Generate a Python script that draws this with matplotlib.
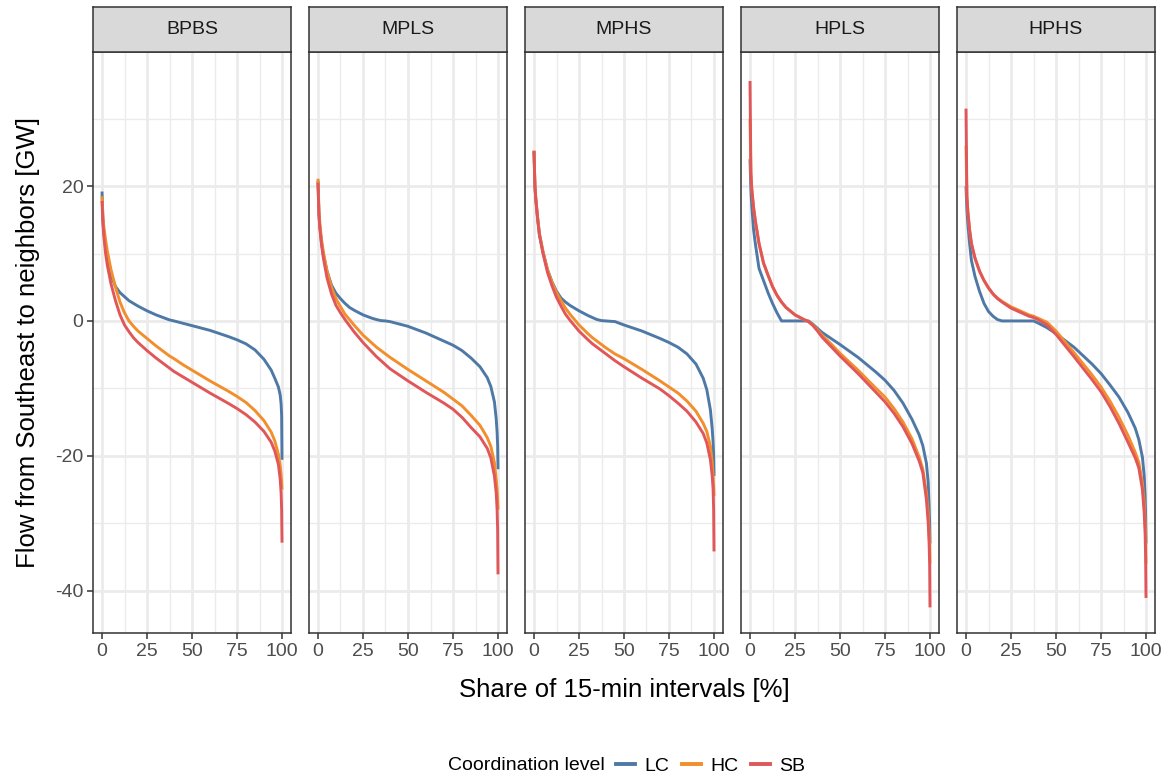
import matplotlib
matplotlib.use("Agg")
import matplotlib.pyplot as plt
from matplotlib.lines import Line2D
from matplotlib.ticker import MultipleLocator

plt.rcParams["font.family"] = ["Liberation Sans", "DejaVu Sans"]
plt.rcParams["axes.unicode_minus"] = False

# share of 15-min intervals [%]
share = [0, 0.5, 1, 2, 3, 5, 7.5, 10, 12.5, 15, 17.5, 20, 25, 30, 32.5, 35, 37.5,
         40, 45, 50, 60, 70, 75, 80, 85, 90, 94, 96, 98, 99, 99.5, 99.8, 100]

scenarios = ["BPBS", "MPLS", "MPHS", "HPLS", "HPHS"]
levels = ["LC", "HC", "SB"]
colors = {"LC": "#4E79A7", "HC": "#F28E2B", "SB": "#E15759"}

# flow from Southeast to neighbors [GW]
bpbs_lc = [19.2, 15, 13.2, 11, 9.3, 6.8, 5.1, 4.2, 3.6, 3.0, 2.6, 2.2, 1.5, 0.9, 0.65, 0.4, 0.15,
           0.0, -0.35, -0.7, -1.4, -2.3, -2.8, -3.4, -4.3, -5.7, -7.3, -8.5, -9.8, -11, -12.3, -14, -20.6]
bpbs_hc = [18.5, 15.5, 14, 12, 10.3, 7.6, 5.0, 2.8, 1.2, 0.0, -0.8, -1.5, -2.6, -3.7, -4.2, -4.7, -5.2,
           -5.6, -6.5, -7.3, -8.9, -10.4, -11.2, -12.1, -13.3, -14.8, -16.5, -17.8, -19.8, -21.5, -22.8, -24, -25]
bpbs_sb = [17.8, 14.5, 12.6, 10, 8.2, 5.5, 3.0, 0.9, -0.6, -1.6, -2.5, -3.2, -4.4, -5.5, -6.0, -6.5, -7.0,
           -7.5, -8.3, -9.1, -10.7, -12.2, -13.0, -13.9, -15.0, -16.4, -18.0, -19.3, -21.3, -23.5, -25.5, -28, -32.9]

mpls_lc = [20.8, 16, 14, 11.5, 9.8, 7.4, 5.3, 4.1, 3.3, 2.6, 2.0, 1.6, 0.9, 0.4, 0.2, 0.05, 0.0,
           -0.1, -0.45, -0.8, -1.8, -3.0, -3.6, -4.4, -5.5, -6.8, -8.4, -9.7, -12, -14.5, -16.5, -18.5, -22]
mpls_hc = [21.1, 16.5, 14.5, 12, 10.2, 7.4, 5.0, 3.3, 2.1, 1.0, 0.2, -0.6, -2.1, -3.3, -3.9, -4.4, -4.9,
           -5.4, -6.3, -7.2, -8.9, -10.6, -11.6, -12.6, -14.0, -15.5, -17.3, -18.6, -21, -23.5, -25, -26.5, -28]
mpls_sb = [20.5, 15.8, 13.8, 11.2, 9.3, 6.4, 4.0, 2.3, 1.2, 0.2, -0.7, -1.6, -3.2, -4.6, -5.3, -5.9, -6.5,
           -7.1, -8.0, -8.9, -10.6, -12.2, -13.1, -14.3, -15.8, -17.2, -18.9, -20.3, -23, -25.5, -28, -31, -37.6]

mphs_lc = [25.2, 20, 18, 15.2, 12.8, 10.2, 7.6, 5.8, 4.4, 3.4, 2.8, 2.3, 1.5, 0.8, 0.5, 0.2, 0.05,
           0.0, -0.1, -0.6, -1.5, -2.6, -3.2, -3.9, -4.9, -6.4, -8.5, -10.2, -13.2, -16, -18, -20, -23]
mphs_hc = [25.3, 20.2, 18.2, 15.4, 13, 10.3, 7.6, 5.7, 4.2, 3.0, 1.9, 1.0, -0.6, -1.9, -2.5, -3.0, -3.5,
           -4.0, -4.9, -5.6, -7.2, -8.9, -9.8, -10.7, -11.9, -13.4, -15.2, -16.4, -18.6, -21, -23, -24.5, -26]
mphs_sb = [25.2, 20, 18, 15.2, 12.8, 10.0, 7.2, 5.2, 3.5, 2.2, 1.0, 0.1, -1.5, -2.8, -3.4, -3.9, -4.4,
           -4.9, -5.9, -6.8, -8.5, -10.1, -11.1, -12.2, -13.4, -15.0, -16.7, -18.1, -20.6, -23, -25, -28, -34.2]

hpls_lc = [24, 19.5, 17, 13.5, 11.4, 7.8, 6.0, 4.2, 2.6, 1.2, 0.0, 0.0, 0.0, 0.0, 0.0, -0.5, -1.1,
           -1.7, -2.6, -3.5, -5.4, -7.6, -8.8, -10.3, -12.2, -14.6, -16.9, -18.5, -21.1, -24, -27.5, -30, -33]
hpls_hc = [30, 22, 19.5, 16.8, 14.8, 11.5, 8.6, 6.8, 5.1, 3.8, 2.8, 2.0, 0.9, 0.2, -0.1, -0.6, -1.3,
           -2.1, -3.4, -4.8, -7.3, -10.0, -11.3, -13.0, -15.0, -17.5, -20.2, -22.0, -25.5, -28.5, -31, -33, -36]
hpls_sb = [35.6, 22, 19.5, 16.8, 14.8, 11.5, 8.6, 6.8, 5.1, 3.8, 2.8, 2.0, 0.9, 0.2, -0.1, -0.7, -1.5,
           -2.4, -3.8, -5.2, -7.8, -10.6, -12.0, -13.7, -15.7, -18.2, -20.8, -22.5, -26.5, -30, -33, -36, -42.5]

hphs_lc = [20, 16.5, 14.5, 11.5, 9.0, 6.6, 4.4, 2.6, 1.4, 0.7, 0.2, 0.0, 0.0, 0.0, 0.0, 0.0, 0.0,
           -0.3, -1.0, -1.9, -3.9, -6.4, -7.8, -9.5, -11.3, -13.6, -15.9, -17.6, -20.2, -23, -26, -29, -33]
hphs_hc = [26, 18.5, 16.3, 13.5, 11.5, 9.3, 7.4, 6.0, 4.9, 4.0, 3.4, 2.9, 2.1, 1.5, 1.2, 0.9, 0.7,
           0.4, -0.2, -1.5, -4.7, -8.0, -9.8, -11.9, -14.3, -17.0, -19.5, -21, -24, -27, -29.5, -32, -36]
hphs_sb = [31.5, 18.5, 16.3, 13.5, 11.5, 9.3, 7.4, 6.0, 4.9, 4.0, 3.3, 2.8, 1.9, 1.3, 1.0, 0.7, 0.5,
           0.2, -0.6, -2.0, -5.3, -8.7, -10.5, -12.7, -15.2, -18.0, -20.3, -21.8, -25, -28.5, -31.5, -35, -41.1]

flows = {
    "BPBS": {"LC": bpbs_lc, "HC": bpbs_hc, "SB": bpbs_sb},
    "MPLS": {"LC": mpls_lc, "HC": mpls_hc, "SB": mpls_sb},
    "MPHS": {"LC": mphs_lc, "HC": mphs_hc, "SB": mphs_sb},
    "HPLS": {"LC": hpls_lc, "HC": hpls_hc, "SB": hpls_sb},
    "HPHS": {"LC": hphs_lc, "HC": hphs_hc, "SB": hphs_sb},
}

W, H = 1168, 780
fig = plt.figure(figsize=(W / 100, H / 100), dpi=100)

left0, pw, step = 93, 198, 216
top, bottom, strip_top = 52, 633, 7
small = 14

for i, sc in enumerate(scenarios):
    x0 = left0 + i * step
    ax = fig.add_axes([x0 / W, 1 - bottom / H, pw / W, (bottom - top) / H])
    for lv in levels:
        ax.plot(share, flows[sc][lv], color=colors[lv], lw=2.1, solid_capstyle="butt", zorder=3)
    ax.set_xlim(-5, 105)
    ax.set_ylim(-46.3, 39.9)
    ax.xaxis.set_major_locator(MultipleLocator(25))
    ax.xaxis.set_minor_locator(MultipleLocator(12.5))
    ax.yaxis.set_major_locator(MultipleLocator(20))
    ax.yaxis.set_minor_locator(MultipleLocator(10))
    ax.grid(which="major", color="#EBEBEB", lw=2.0, zorder=0)
    ax.grid(which="minor", color="#EBEBEB", lw=1.0, zorder=0)
    ax.tick_params(which="minor", length=0)
    ax.tick_params(which="major", length=4, width=1.1, color="#333333",
                   labelcolor="#4D4D4D", labelsize=small, pad=3)
    for s in ax.spines.values():
        s.set_color("#333333")
        s.set_linewidth(1.1)
    ax.set_axisbelow(True)
    if i > 0:
        ax.tick_params(axis="y", left=False, labelleft=False)
    else:
        ax.set_yticks([-40, -20, 0, 20])

    sax = fig.add_axes([x0 / W, 1 - top / H, pw / W, (top - strip_top) / H])
    sax.set_facecolor("#D9D9D9")
    sax.set_xticks([])
    sax.set_yticks([])
    for s in sax.spines.values():
        s.set_color("#333333")
        s.set_linewidth(1.1)
    sax.text(0.5, 0.5, sc, ha="center", va="center", fontsize=small, color="#1A1A1A",
             transform=sax.transAxes)

fig.text(28 / W, 1 - 342 / H, "Flow from Southeast to neighbors [GW]", rotation=90,
         ha="center", va="center", fontsize=18.5)
fig.text(624 / W, 1 - 690 / H, "Share of 15-min intervals [%]", ha="center", va="center",
         fontsize=18.5)

fig.text(605 / W, 1 - 766 / H, "Coordination level", ha="right", va="center", fontsize=small)
handles = [Line2D([0], [0], color=colors[lv], lw=2.8) for lv in levels]
fig.legend(handles, levels, loc="center left", bbox_to_anchor=(616 / W, 1 - 766 / H),
           ncol=3, frameon=False, fontsize=small, handlelength=1.0, handletextpad=0.45,
           columnspacing=0.65, borderpad=0, borderaxespad=0)

fig.savefig("out.png", dpi=100)
